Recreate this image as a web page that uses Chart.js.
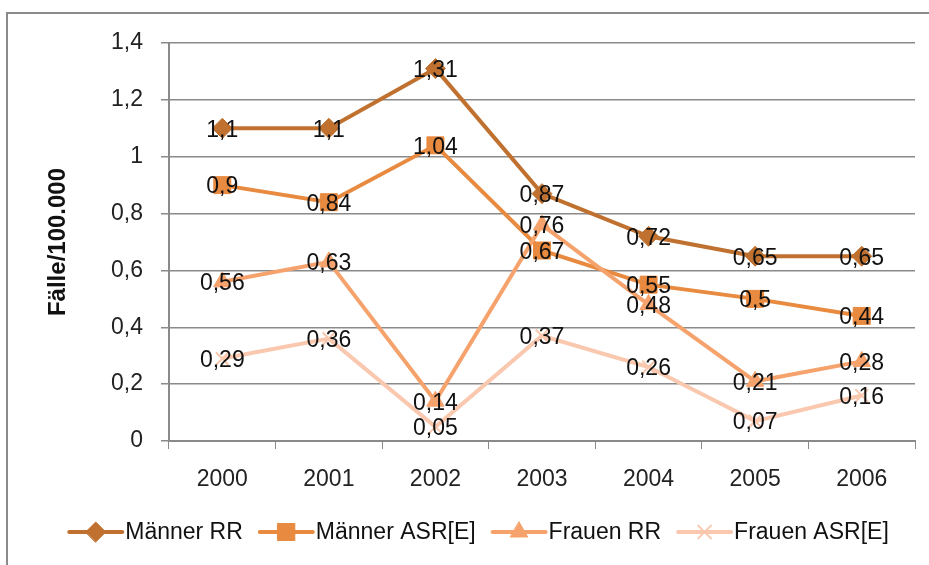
<!DOCTYPE html>
<html>
<head>
<meta charset="utf-8">
<script src="https://cdn.jsdelivr.net/npm/chart.js@4.4.0/dist/chart.umd.min.js"></script>
<style>
html,body{margin:0;padding:0;background:#fff;}
#wrap{width:929px;height:565px;position:relative;}
</style>
</head>
<body>
<div id="wrap"><canvas id="c" width="929" height="565"></canvas></div>
<script>
const categories = ['2000','2001','2002','2003','2004','2005','2006'];
const seriesNames = ['Männer RR','Männer ASR[E]','Frauen RR','Frauen ASR[E]'];
const maennerRR = [1.1, 1.1, 1.31, 0.87, 0.72, 0.65, 0.65];
const maennerASR = [0.9, 0.84, 1.04, 0.67, 0.55, 0.5, 0.44];
const frauenRR = [0.56, 0.63, 0.14, 0.76, 0.48, 0.21, 0.28];
const frauenASR = [0.29, 0.36, 0.05, 0.37, 0.26, 0.07, 0.16];
const yTicks = [0, 0.2, 0.4, 0.6, 0.8, 1, 1.2, 1.4];
const yTitle = 'Fälle/100.000';

const FONT = '"Liberation Sans", Arial, sans-serif';
const FS = 23;
const colors = ['#C0712F', '#E88A3F', '#F5A26C', '#F9C8AE'];
const styles = ['rectRot', 'rect', 'triangle', 'crossRot'];
const radii = [10, 12, 10, 9];
const fmt = v => String(v).replace('.', ',');

const allValues = [maennerRR, maennerASR, frauenRR, frauenASR];

const datasets = allValues.map((vals, i) => ({
  label: seriesNames[i],
  data: vals,
  borderColor: colors[i],
  backgroundColor: colors[i],
  pointBackgroundColor: colors[i],
  pointBorderColor: colors[i],
  pointStyle: styles[i],
  pointRadius: radii[i],
  pointHoverRadius: radii[i],
  pointBorderWidth: i === 3 ? 2 : 1,
  borderWidth: 4,
  tension: 0,
  order: 3 - i
}));

const framePlugin = {
  id: 'frame',
  beforeDraw(chart) {
    const ctx = chart.ctx;
    ctx.save();
    ctx.fillStyle = '#fff';
    ctx.fillRect(0, 0, chart.width, chart.height);
    ctx.strokeStyle = '#8a8a8a';
    ctx.lineWidth = 2;
    ctx.strokeRect(7, 13, 960, 600);
    ctx.restore();
  }
};

const labelPlugin = {
  id: 'valueLabels',
  afterDatasetsDraw(chart) {
    const ctx = chart.ctx;
    ctx.save();
    ctx.font = FS + 'px ' + FONT;
    ctx.fillStyle = '#111';
    ctx.textAlign = 'center';
    ctx.textBaseline = 'middle';
    chart.data.datasets.forEach((ds, di) => {
      const meta = chart.getDatasetMeta(di);
      meta.data.forEach((pt, j) => {
        ctx.fillText(fmt(ds.data[j]), pt.x, pt.y + 2);
      });
    });
    ctx.restore();
  }
};

const legendPlugin = {
  id: 'customLegend',
  afterDraw(chart) {
    const ctx = chart.ctx;
    ctx.save();
    ctx.font = FS + 'px ' + FONT;
    ctx.textBaseline = 'middle';
    const y = 532;
    const lineW = 53, gapText = 3, gapItem = 17;
    const widths = chart.data.datasets.map(ds => lineW + gapText + ctx.measureText(ds.label).width);
    const total = widths.reduce((a, b) => a + b, 0) + gapItem * (widths.length - 1);
    let x = 479 - total / 2;
    chart.data.datasets.forEach((ds, i) => {
      ctx.strokeStyle = ds.borderColor;
      ctx.lineWidth = 4;
      ctx.lineCap = 'round';
      ctx.beginPath();
      ctx.moveTo(x, y);
      ctx.lineTo(x + lineW, y);
      ctx.stroke();
      ctx.lineWidth = ds.pointBorderWidth;
      ctx.fillStyle = ds.pointBackgroundColor;
      ctx.strokeStyle = ds.pointBorderColor;
      Chart.helpers.drawPoint(ctx, {pointStyle: ds.pointStyle, radius: ds.pointRadius, rotation: 0, borderWidth: ds.pointBorderWidth}, x + lineW / 2, y);
      ctx.fillStyle = '#111';
      ctx.textAlign = 'left';
      ctx.fillText(ds.label, x + lineW + gapText, y + 1);
      x += widths[i] + gapItem;
    });
    ctx.restore();
  }
};

new Chart(document.getElementById('c'), {
  type: 'line',
  data: { labels: categories, datasets },
  plugins: [framePlugin, labelPlugin, legendPlugin],
  options: {
    responsive: false,
    animation: false,
    devicePixelRatio: 1,
    layout: { padding: { left: 0, right: 14, top: 43, bottom: 0 } },
    plugins: {
      legend: { display: false },
      tooltip: { enabled: false }
    },
    scales: {
      x: {
        type: 'category',
        offset: true,
        grid: { offset: true, drawOnChartArea: false, drawTicks: true, tickLength: 8, color: '#8a8a8a', lineWidth: 1 },
        border: { color: '#8a8a8a', width: 2 },
        ticks: { color: '#222', font: { family: FONT, size: FS }, padding: 17, maxRotation: 0 },
        afterFit(scale) { scale.height = 124; }
      },
      y: {
        min: 0,
        max: 1.4,
        afterBuildTicks(scale) { scale.ticks = yTicks.map(v => ({ value: v })); },
        grid: { color: '#8a8a8a', lineWidth: 1.5, tickLength: 8, drawTicks: true },
        border: { color: '#8a8a8a', width: 2 },
        ticks: { color: '#222', font: { family: FONT, size: FS }, padding: 18, callback: v => fmt(Math.round(v * 10) / 10) },
        title: { display: true, text: yTitle, color: '#111', font: { family: FONT, size: 24, weight: 'bold' }, padding: { top: 44, bottom: 0 } },
        afterFit(scale) { scale.width = 169; }
      }
    }
  }
});
</script>
</body>
</html>
